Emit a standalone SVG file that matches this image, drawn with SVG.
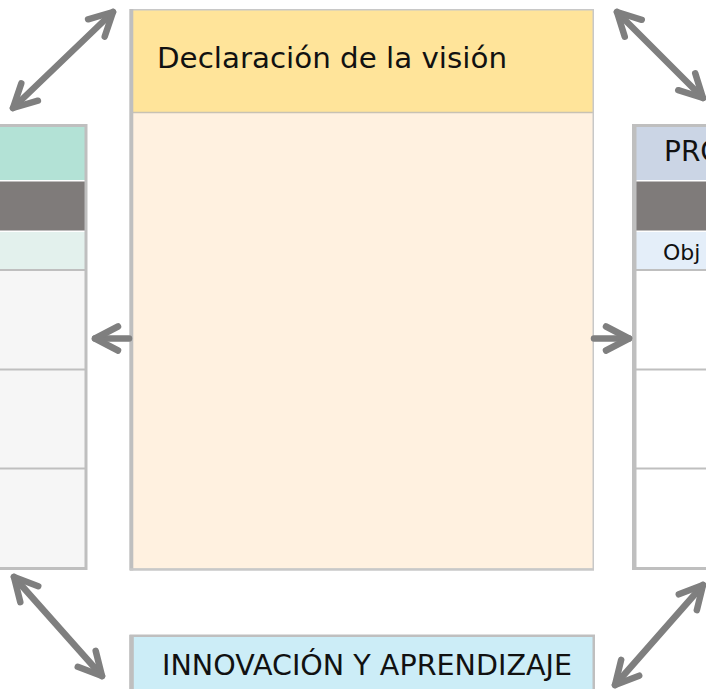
<svg xmlns="http://www.w3.org/2000/svg" width="706" height="689" viewBox="0 0 706 689">
<style>
.bd{fill:none;stroke:#BFBFBF;stroke-width:3}
.ln{stroke:#BFBFBF;stroke-width:2}
.tx{font-family:"DejaVu Sans","Liberation Sans",sans-serif;fill:#111111}
.ar{fill:none;stroke:#7F7F7F;stroke-width:6.5;stroke-linecap:round;stroke-linejoin:round}
</style>
<defs>
<marker id="hd" markerUnits="userSpaceOnUse" viewBox="-32 -18 38 36" markerWidth="38" markerHeight="36" refX="0" refY="0" orient="auto-start-reverse" overflow="visible">
<path d="M -23 -12 L 0 0 L -23 12" fill="none" stroke="#7F7F7F" stroke-width="6.5" stroke-linecap="round" stroke-linejoin="round"/>
</marker>
</defs>
<rect width="706" height="689" fill="#FFFFFF"/>

<g id="perspectiva-izquierda">
<rect x="-10" y="126" width="96" height="54" fill="#B3E2D6"/>
<rect x="-10" y="181.5" width="96" height="49" fill="#7F7B7A"/>
<rect x="-10" y="232" width="96" height="37.5" fill="#E3F1ED"/>
<rect x="-10" y="270" width="96" height="298" fill="#F6F6F6"/>
<line class="ln" x1="-10" y1="270" x2="86" y2="270"/>
<line class="ln" x1="-10" y1="369.5" x2="86" y2="369.5"/>
<line class="ln" x1="-10" y1="468.5" x2="86" y2="468.5"/>
<rect class="bd" x="-10" y="125.5" width="96" height="443"/>
</g>

<g id="declaracion-vision">
<rect x="132" y="10" width="461" height="102" fill="#FFE49A"/>
<rect x="132" y="113" width="461" height="456" fill="#FFF1E0"/>
<line x1="132" y1="112.5" x2="593" y2="112.5" stroke="#C8C2B4" stroke-width="1.6"/>
<rect x="130.75" y="9.75" width="462.5" height="559.5" fill="none" stroke="#C8C8C8" stroke-width="1.5"/>
<rect x="129.3" y="9" width="4" height="561.5" fill="#BFBFBF"/>
<line x1="130" y1="569.5" x2="594" y2="569.5" stroke="#C8C8C8" stroke-width="2.5"/>
<text class="tx" x="157" y="68" font-size="28" textLength="350" lengthAdjust="spacingAndGlyphs">Declaración de la visión</text>
</g>

<g id="procesos">
<rect x="634" y="126" width="82" height="54" fill="#CBD5E5"/>
<rect x="634" y="181.5" width="82" height="49" fill="#7F7B7A"/>
<rect x="634" y="232" width="82" height="37.5" fill="#E4EEF9"/>
<rect x="634" y="270" width="82" height="298" fill="#FFFFFF"/>
<line class="ln" x1="634" y1="270" x2="716" y2="270"/>
<line class="ln" x1="634" y1="369.5" x2="716" y2="369.5"/>
<line class="ln" x1="634" y1="468.5" x2="716" y2="468.5"/>
<rect class="bd" x="634" y="125.5" width="82" height="443"/>
<rect x="632" y="124" width="4.5" height="446" fill="#BFBFBF"/>
<text class="tx" x="664" y="161" font-size="28">PRO</text>
<text class="tx" x="663" y="260" font-size="22">Obj</text>
</g>

<g id="innovacion-aprendizaje">
<rect x="131" y="636" width="463" height="60" fill="#CCEDF7"/>
<rect x="130.75" y="635.75" width="463" height="60" fill="none" stroke="#BFBFBF" stroke-width="2.5"/>
<rect x="129.3" y="635" width="4.5" height="60" fill="#BFBFBF"/>
<text class="tx" x="162" y="675" font-size="28" textLength="410" lengthAdjust="spacingAndGlyphs">INNOVACIÓN Y APRENDIZAJE</text>
</g>

<g id="conectores">
<line class="ar" x1="13" y1="108" x2="113" y2="12" marker-start="url(#hd)" marker-end="url(#hd)"/>
<line class="ar" x1="617" y1="12" x2="703" y2="98" marker-start="url(#hd)" marker-end="url(#hd)"/>
<line class="ar" x1="14" y1="577" x2="102" y2="676" marker-start="url(#hd)" marker-end="url(#hd)"/>
<line class="ar" x1="703" y1="585" x2="615" y2="685" marker-start="url(#hd)" marker-end="url(#hd)"/>
<line class="ar" x1="129" y1="338.5" x2="95" y2="338.5" marker-end="url(#hd)"/>
<line class="ar" x1="594" y1="338.5" x2="629" y2="338.5" marker-end="url(#hd)"/>
</g>
</svg>
